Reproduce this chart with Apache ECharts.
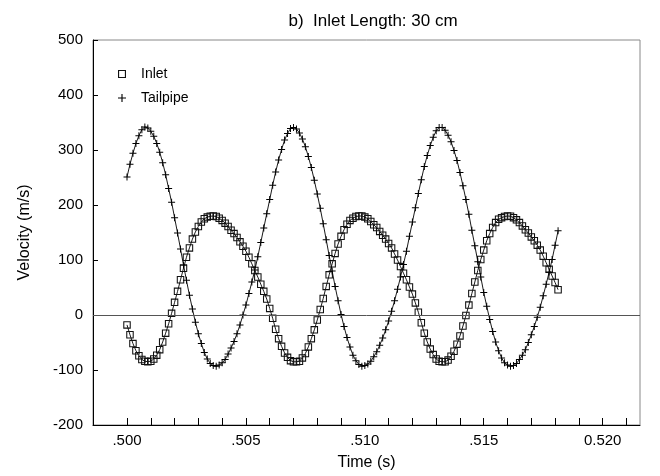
<!DOCTYPE html>
<html><head><meta charset="utf-8">
<script src="https://cdn.jsdelivr.net/npm/echarts@6/dist/echarts.min.js"></script>
<style>html,body{margin:0;padding:0;background:#fff}#c{width:660px;height:476px}</style>
</head><body><div id="c"></div>
<script>
// time (s), sampled every 0.125 ms
const time = [
0.5,0.500125,0.50025,0.500375,0.5005,0.500625,0.50075,0.500875,
0.501,0.501125,0.50125,0.501375,0.5015,0.501625,0.50175,0.501875,
0.502,0.502125,0.50225,0.502375,0.5025,0.502625,0.50275,0.502875,
0.503,0.503125,0.50325,0.503375,0.5035,0.503625,0.50375,0.503875,
0.504,0.504125,0.50425,0.504375,0.5045,0.504625,0.50475,0.504875,
0.505,0.505125,0.50525,0.505375,0.5055,0.505625,0.50575,0.505875,
0.506,0.506125,0.50625,0.506375,0.5065,0.506625,0.50675,0.506875,
0.507,0.507125,0.50725,0.507375,0.5075,0.507625,0.50775,0.507875,
0.508,0.508125,0.50825,0.508375,0.5085,0.508625,0.50875,0.508875,
0.509,0.509125,0.50925,0.509375,0.5095,0.509625,0.50975,0.509875,
0.51,0.510125,0.51025,0.510375,0.5105,0.510625,0.51075,0.510875,
0.511,0.511125,0.51125,0.511375,0.5115,0.511625,0.51175,0.511875,
0.512,0.512125,0.51225,0.512375,0.5125,0.512625,0.51275,0.512875,
0.513,0.513125,0.51325,0.513375,0.5135,0.513625,0.51375,0.513875,
0.514,0.514125,0.51425,0.514375,0.5145,0.514625,0.51475,0.514875,
0.515,0.515125,0.51525,0.515375,0.5155,0.515625,0.51575,0.515875,
0.516,0.516125,0.51625,0.516375,0.5165,0.516625,0.51675,0.516875,
0.517,0.517125,0.51725,0.517375,0.5175,0.517625,0.51775,0.517875,
0.518,0.518125];
// Inlet velocity (m/s)
const inlet = [
-18,-36,-52,-65,-74,-81,-84,-85,
-84,-80,-73,-63,-49,-33,-16,3,
23,43,64,85,105,122,138,151,
161,169,175,178,179.5,180,179,176,
172,167,161,154,148,141,133,125,
116,105,93,81,69,56,43,29,
12,-6,-26,-43,-57,-69,-77,-83,
-85,-85,-84,-78,-70,-58,-43,-27,
-9,10,30,52,73,93,112,129,
143,155,165,172,176,179,180,180,
178,175,170,164,159,152,145,138,
130,122,111,100,88,76,64,51,
38,22,5,-14,-33,-49,-62,-72,
-80,-84,-85,-85,-82,-75,-66,-53,
-38,-20,-1,18,39,60,81,101,
118,135,148,159,168,174,177,179,
180,179.5,177,173,168,162,155,149,
142,135,127,118,107,95,83,71,
59,46];
// Tailpipe velocity (m/s)
const tailpipe = [
251,274,294,312,326,337,342,340,
334,325,312,296,277,255,230,205,
177,149,120,91,63,36,11,-13,
-34,-52,-68,-80,-88,-92,-93,-91,
-87,-81,-71,-60,-48,-34,-18,0,
18,39,60,82,106,132,158,184,
210,236,260,282,301,318,330,339,
341,338,331,320,306,288,268,245,
220,194,166,137,108,80,52,26,
1,-21,-41,-58,-73,-83,-90,-93,
-92,-89,-84,-76,-67,-55,-42,-27,
-11,7,26,47,69,92,116,143,
169,195,221,246,270,290,308,323,
335,341,341,336,327,315,299,281,
259,235,210,183,154,126,97,69,
41,16,-8,-30,-49,-65,-78,-87,
-91,-93,-92,-88,-81,-73,-63,-50,
-36,-21,-4,14,35,56,78,101,
127,153];
const xLabelValues = [0.5,0.505,0.51,0.515,0.52];
const xTickLabels = ['.500','.505','.510','.515','0.520'];
const xTickValues = [0.5,0.501,0.502,0.503,0.504,0.505,0.506,0.507,0.508,0.509,0.51,0.511,0.512,0.513,0.514,0.515,0.516,0.517,0.518,0.519,0.52,0.521];
const seriesNames = ['Inlet','Tailpipe'];
const titleText = 'b)  Inlet Length: 30 cm';

const FONT = '"Liberation Sans", Arial, Helvetica, sans-serif';
const SQUARE = 'path://M0,0H10V10H0ZM1.4,1.4V8.6H8.6V1.4Z';
const PLUS = 'path://M4.3,0H5.7V4.3H10V5.7H5.7V10H4.3V5.7H0V4.3H4.3Z';
const X_MIN = 0.49857, X_MAX = 0.52157;

const chart = echarts.init(document.getElementById('c'), null, {renderer:'canvas'});
const pairs = (ys) => time.map((t,i)=>[t, ys[i]]);
const labelMap = {};
xLabelValues.forEach((v,i)=>{ labelMap[v.toFixed(3)] = xTickLabels[i]; });

chart.setOption({
  animation:false,
  backgroundColor:'#fff',
  title:{text:titleText,left:368,top:8,textAlign:'center',
    textStyle:{fontFamily:FONT,fontSize:17,fontWeight:'normal',color:'#000'}},
  grid:{left:93,right:20,top:40,bottom:51,show:true,borderColor:'#888',borderWidth:1,backgroundColor:'transparent'},
  legend:{
    orient:'vertical',left:113,top:62,itemWidth:28,itemHeight:8,itemGap:10,
    selectedMode:false,
    textStyle:{fontFamily:FONT,fontSize:14,color:'#000',lineHeight:14},
    itemStyle:{borderWidth:0},
    data:[{name:seriesNames[0],icon:SQUARE},{name:seriesNames[1],icon:PLUS}]
  },
  xAxis:[
    {type:'value',min:X_MIN,max:X_MAX,position:'bottom',
     name:'Time (s)',nameLocation:'middle',nameGap:30,
     nameTextStyle:{fontFamily:FONT,fontSize:16,color:'#000'},
     axisLine:{show:true,onZero:true,onZeroAxisIndex:1,lineStyle:{color:'#000',width:1}},
     axisTick:{show:true,inside:true,length:7,customValues:xTickValues,lineStyle:{color:'#000'}},
     axisLabel:{show:true,customValues:xLabelValues,margin:8,fontFamily:FONT,fontSize:15,color:'#000',
       formatter:(v)=>labelMap[Number(v).toFixed(3)]||''},
     splitLine:{show:false}},
    {type:'value',min:0,max:1,show:false}
  ],
  yAxis:[
    {type:'value',min:-200,max:500,interval:100,position:'left',
     name:'Velocity (m/s)',nameLocation:'middle',nameGap:60,nameRotate:90,
     nameTextStyle:{fontFamily:FONT,fontSize:16,color:'#000'},
     axisLine:{show:true,onZero:true,onZeroAxisIndex:1,lineStyle:{color:'#000',width:1}},
     axisTick:{show:true,inside:true,length:5,lineStyle:{color:'#000'}},
     axisLabel:{margin:10,fontFamily:FONT,fontSize:15,color:'#000'},
     splitLine:{show:false}},
    {type:'value',min:0,max:700,show:false}
  ],
  series:[
    {name:seriesNames[0],type:'line',xAxisIndex:0,yAxisIndex:0,data:pairs(inlet),
     symbol:SQUARE,symbolSize:7.5,showSymbol:true,
     itemStyle:{color:'#111'},lineStyle:{color:'#000',width:0.9},z:3},
    {name:seriesNames[1],type:'line',xAxisIndex:0,yAxisIndex:0,data:pairs(tailpipe),
     symbol:PLUS,symbolSize:7,showSymbol:true,
     itemStyle:{color:'#000'},lineStyle:{color:'#000',width:0.9},z:4,
     markLine:{silent:true,symbol:'none',label:{show:false},animation:false,
       lineStyle:{color:'#555',width:1,type:'solid'},data:[{yAxis:0}]}}
  ]
});
</script></body></html>
